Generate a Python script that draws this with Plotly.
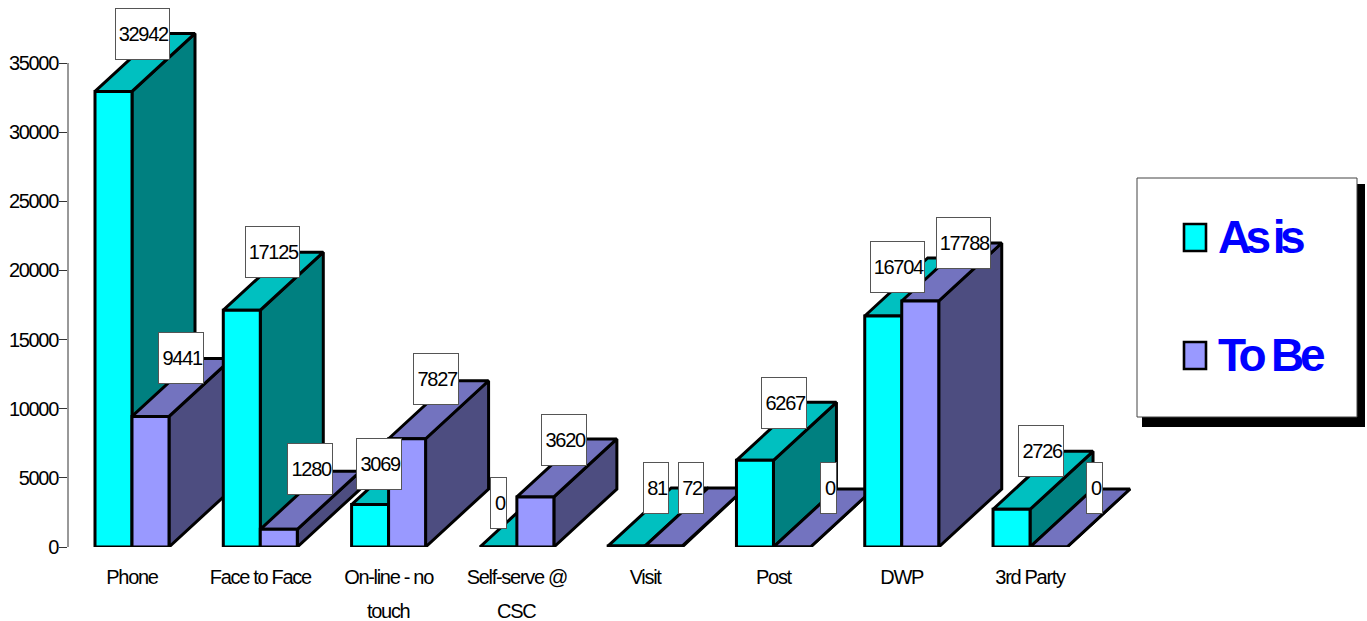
import plotly.graph_objects as go

# Chart data
CATEGORIES = ["Phone", "Face to Face", "On-line - no", "Self-serve @", "Visit", "Post", "DWP", "3rd Party"]
SECOND_LINES = ["", "", "touch", "CSC", "", "", "", ""]
AS_IS = [32942, 17125, 3069, 0, 81, 6267, 16704, 2726]
TO_BE = [9441, 1280, 7827, 3620, 72, 0, 17788, 0]
SERIES_NAMES = ["As is", "To Be"]
Y_TICKS = [0, 5000, 10000, 15000, 20000, 25000, 30000, 35000]

# Hand-placed data label offsets in pixels (right, up)
AS_IS_NUDGE = [(-2.5, 2.5), (-1, 3), (-22.5, -14), (-31, -11), (-2, 3), (-2.5, 2), (-17, -6), (-2.5, 3)]
TO_BE_NUDGE = [(-1, 3), (0, 5), (-3, 5), (-2.4, 2), (-4, 3), (5, 4), (12, 3), (14.5, 4)]

# Page geometry
W, H = 1367, 621
LEFT, TOP, BASE = 68, 63, 547
PLOT_W = W - LEFT
Y_MAX = 35000
PX_PER_UNIT = (BASE - TOP) / Y_MAX
X_STEP = 128.29                 # pixels per category
FIRST_CENTER = 132              # pixel position of the first category centre
X_RANGE = [(LEFT - FIRST_CENTER) / X_STEP, (W - FIRST_CENTER) / X_STEP]
Y_RANGE = [0, BASE / PX_PER_UNIT]   # plot area runs to the top of the page
BAR_W = 37 / X_STEP
DEPTH_X = 63 / X_STEP
DEPTH_Y = 58 / PX_PER_UNIT

AS_IS_COLORS = {"front": "#00FFFF", "top": "#00C0C0", "side": "#008080"}
TO_BE_COLORS = {"front": "#9999FF", "top": "#7373BF", "side": "#4D4D80"}

FONT = "Liberation Sans, Arial, sans-serif"
TEXT_SIZE = 20


def tight(text, spacing=-1.3, word=0):
    return f'<span style="letter-spacing:{spacing}px;word-spacing:{word}px">{text}</span>'


def face(xs, ys, color):
    return go.Scatter(
        x=xs + xs[:1], y=ys + ys[:1], mode="lines", fill="toself", fillcolor=color,
        line=dict(color="#000000", width=3),
        hoverinfo="skip", showlegend=False,
    )


def bar_faces(left, value, colors):
    right = left + BAR_W
    dx, dy = DEPTH_X, DEPTH_Y
    return [
        face([right, right + dx, right + dx, right], [0, dy, value + dy, value], colors["side"]),
        face([left, right, right + dx, left + dx], [value, value, value + dy, value + dy], colors["top"]),
        face([left, right, right, left], [0, 0, value, value], colors["front"]),
    ]


fig = go.Figure()
for i in range(len(CATEGORIES)):
    for trace in bar_faces(i - BAR_W, AS_IS[i], AS_IS_COLORS):
        fig.add_trace(trace)
    for trace in bar_faces(i, TO_BE[i], TO_BE_COLORS):
        fig.add_trace(trace)


def px_x(px):
    return (px - LEFT) / PLOT_W


def px_y(py):
    return (BASE - py) / BASE


annotations = []


def value_label(center, value, nudge):
    digits = len(str(value))
    box_w = {1: 17, 2: 26, 4: 46, 5: 55}[digits]
    annotations.append(dict(
        x=center + DEPTH_X / 2, y=value + DEPTH_Y / 2, xref="x", yref="y",
        xanchor="center", yanchor="bottom", xshift=nudge[0], yshift=nudge[1],
        text=tight(value), showarrow=False, align="right", valign="middle",
        width=box_w - 2, height=50, bgcolor="#FFFFFF",
        bordercolor="#555555", borderwidth=1, borderpad=0,
        font=dict(family=FONT, size=TEXT_SIZE, color="#000000"),
    ))


for i in range(len(CATEGORIES)):
    value_label(i - BAR_W / 2, AS_IS[i], AS_IS_NUDGE[i])
    value_label(i + BAR_W / 2, TO_BE[i], TO_BE_NUDGE[i])

# Wrapped category labels sit on a wider line pitch than the tick text allows
for i, line in enumerate(SECOND_LINES):
    if line:
        annotations.append(dict(
            x=i, y=px_y(611), xref="x", yref="paper", xanchor="center", yanchor="middle",
            text=tight(line), showarrow=False,
            font=dict(family=FONT, size=TEXT_SIZE, color="#000000"),
        ))

shapes = [
    # Value axis stops at the last tick instead of running up the whole plot area
    dict(type="line", xref="paper", x0=0, x1=0, yref="y", y0=0, y1=Y_MAX,
         line=dict(color="#333333", width=1)),
    # Legend panel with drop shadow
    dict(type="rect", xref="paper", yref="paper", x0=px_x(1142), x1=px_x(1365),
         y0=px_y(427), y1=px_y(184), fillcolor="#000000", line=dict(width=0)),
    dict(type="rect", xref="paper", yref="paper", x0=px_x(1137), x1=px_x(1357),
         y0=px_y(417), y1=px_y(178), fillcolor="#FFFFFF", line=dict(color="#444444", width=1)),
]
legend_rows = zip(SERIES_NAMES, ["#00FFFF", "#9999FF"], [223, 341], [-5.6, -4.2])
for name, color, key_top, spacing in legend_rows:
    shapes.append(dict(
        type="rect", xref="paper", yref="paper", x0=px_x(1184), x1=px_x(1206),
        y0=px_y(key_top + 28), y1=px_y(key_top + 1), fillcolor=color,
        line=dict(color="#000000", width=2.6),
    ))
    annotations.append(dict(
        x=px_x(1216), y=px_y(key_top + 14), xref="paper", yref="paper",
        xanchor="left", yanchor="middle", showarrow=False,
        text=tight(name, spacing=spacing, word=0),
        font=dict(family=FONT, size=46, color="#0000FF", weight="bold"),
    ))

fig.update_layout(
    width=W, height=H, autosize=False,
    margin=dict(l=LEFT, r=0, t=0, b=H - BASE, pad=0),
    paper_bgcolor="#FFFFFF", plot_bgcolor="#FFFFFF",
    showlegend=False, shapes=shapes, annotations=annotations,
    xaxis=dict(
        range=X_RANGE, tickmode="array", tickvals=list(range(len(CATEGORIES))),
        ticktext=[tight(c) for c in CATEGORIES], ticks="", showgrid=False,
        zeroline=False, showline=False, ticklabelstandoff=16,
        tickfont=dict(family=FONT, size=TEXT_SIZE, color="#000000"),
    ),
    yaxis=dict(
        range=Y_RANGE, tickmode="array", tickvals=Y_TICKS,
        ticktext=[tight(v) for v in Y_TICKS], ticks="outside", ticklen=8, tickwidth=1,
        tickcolor="#333333", showline=False, ticklabelstandoff=-3,
        showgrid=False, zeroline=False,
        tickfont=dict(family=FONT, size=TEXT_SIZE, color="#000000"),
    ),
)

fig.write_html("out.html", config={"displayModeBar": False})
